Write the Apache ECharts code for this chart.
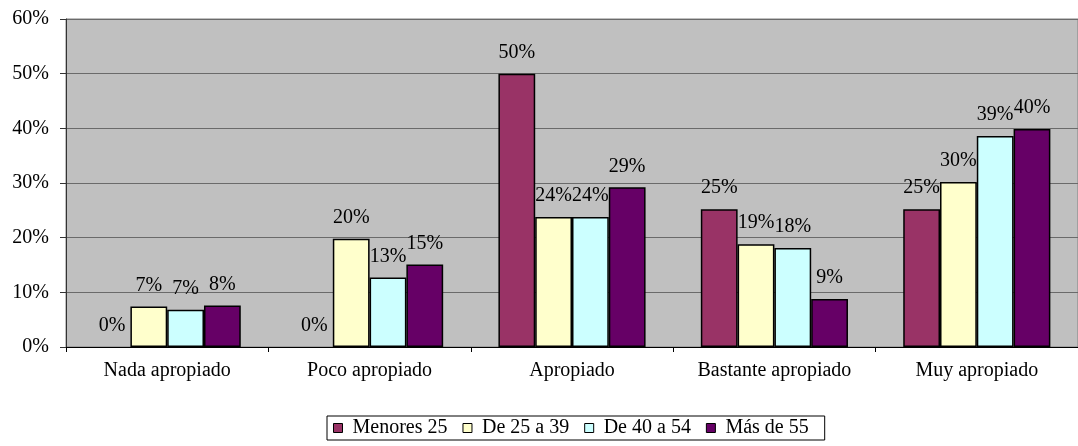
<!DOCTYPE html>
<html>
<head>
<meta charset="utf-8">
<script src="https://cdn.jsdelivr.net/npm/echarts@6/dist/echarts.min.js"></script>
<style>
html,body{margin:0;padding:0;background:#fff;}
#chart{width:1078px;height:446px;}
</style>
</head>
<body>
<div id="chart"></div>
<script>
const categories = ['Nada apropiado', 'Poco apropiado', 'Apropiado', 'Bastante apropiado', 'Muy apropiado'];
const seriesNames = ['Menores 25', 'De 25 a 39', 'De 40 a 54', 'Más de 55'];
const menores25 = [0, 0, 0.50, 0.252, 0.252];
const de25a39 = [0.074, 0.198, 0.238, 0.188, 0.302];
const de40a54 = [0.068, 0.127, 0.238, 0.181, 0.386];
const masDe55 = [0.076, 0.151, 0.292, 0.088, 0.399];
const yTicks = [0, 0.1, 0.2, 0.3, 0.4, 0.5, 0.6];
const colors = ['#993366', '#FFFFCC', '#CCFFFF', '#660066'];

const FONT = '"Liberation Serif", "Times New Roman", serif';
const FS = 20;
const values = [menores25, de25a39, de40a54, masDe55];
const pct = v => Math.round(v * 100) + '%';

const chart = echarts.init(document.getElementById('chart'), null, {renderer: 'canvas'});
chart.setOption({
  animation: false,
  backgroundColor: '#ffffff',
  color: colors,
  grid: {
    left: 66, top: 19, right: -8, bottom: 99,
    show: true, backgroundColor: '#C0C0C0', borderColor: '#808080', borderWidth: 1
  },
  legend: {
    data: seriesNames,
    top: 416,
    left: 327,
    icon: 'rect',
    itemWidth: 9,
    itemHeight: 9,
    itemGap: 15,
    padding: [2, 16, 2, 6],
    borderColor: '#000',
    borderWidth: 1,
    itemStyle: {borderColor: '#000', borderWidth: 1},
    textStyle: {fontFamily: FONT, fontSize: FS, color: '#000', padding: [0, 0, 0, 5]}
  },
  xAxis: {
    type: 'category',
    data: categories,
    axisLine: {lineStyle: {color: '#000', width: 1}},
    axisTick: {show: true, length: 5, lineStyle: {color: '#000'}},
    axisLabel: {fontFamily: FONT, fontSize: FS, color: '#000', margin: 14},
    splitLine: {show: false}
  },
  yAxis: {
    type: 'value',
    min: yTicks[0],
    max: yTicks[yTicks.length - 1],
    interval: 0.1,
    axisLine: {show: true, lineStyle: {color: '#333', width: 1}},
    axisTick: {show: true, length: 6, lineStyle: {color: '#333'}},
    axisLabel: {fontFamily: FONT, fontSize: FS, color: '#000', margin: 17, formatter: v => pct(v)},
    splitLine: {show: true, lineStyle: {color: '#6a6a6a', width: 1}}
  },
  series: seriesNames.map((name, i) => ({
    name: name,
    type: 'bar',
    data: values[i].map(v => v === 0 ? {value: v, itemStyle: {borderWidth: 0}} : v),
    barGap: '0%',
    barCategoryGap: '27.3%',
    itemStyle: {color: colors[i], borderColor: '#000', borderWidth: 1.5},
    label: {
      show: true,
      position: 'top',
      distance: 11,
      fontFamily: FONT,
      fontSize: FS,
      color: '#000',
      formatter: p => pct(p.value)
    }
  }))
});
</script>
</body>
</html>
